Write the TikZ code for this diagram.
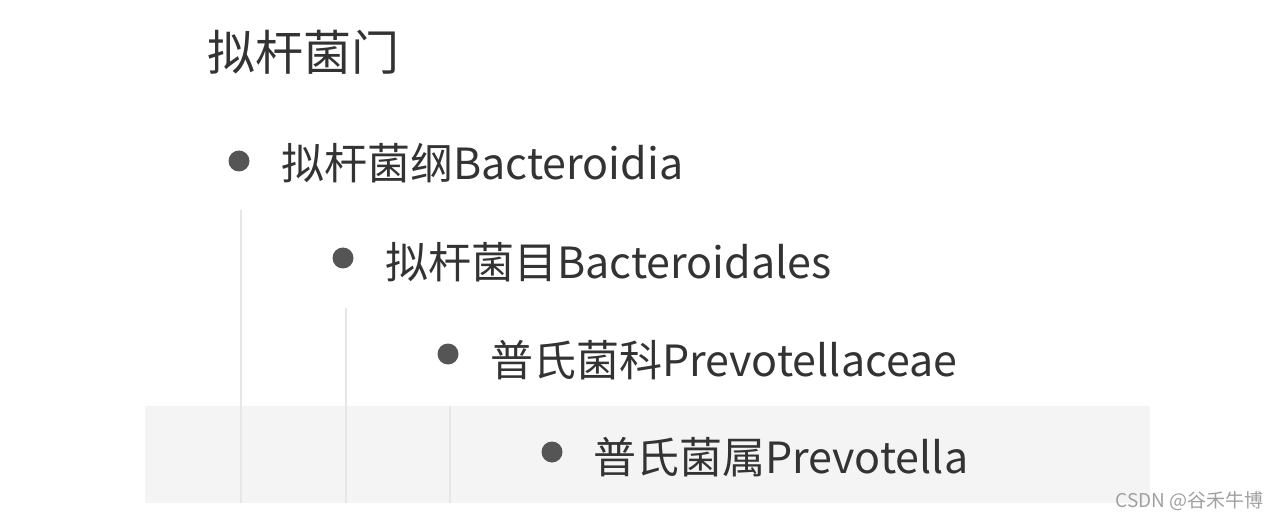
\documentclass[tikz,border=0pt]{standalone}
\usepackage{fontspec}
\setmainfont{Noto Sans CJK SC}
\definecolor{txt}{HTML}{333333}
\definecolor{bul}{HTML}{555555}
\definecolor{guide}{HTML}{E6E6E6}
\definecolor{band}{HTML}{F4F4F4}
\definecolor{wm}{HTML}{A0A0A0}
\begin{document}
\begin{tikzpicture}[x=1pt,y=-1pt,
  item/.style={anchor=west,inner sep=0pt,text=txt,font=\fontsize{43}{50}\selectfont},
  dot/.style={circle,fill=bul,minimum size=21pt,inner sep=0pt},
  guideline/.style={draw=guide,line width=2pt}]
\useasboundingbox (0,0) rectangle (1279,521);
\fill[band] (145,406) rectangle (1150,503);
\node[item,font=\fontsize{48}{56}\selectfont] (title) at (207,52) {拟杆菌门};
\node[dot] (b1) at (239,161) {};
\node[item] (t1) at (281,163) {拟杆菌纲Bacteroidia};
\node[dot] (b2) at (343,258) {};
\node[item] (t2) at (385,262) {拟杆菌目Bacteroidales};
\node[dot] (b3) at (448,354) {};
\node[item] (t3) at (490,360) {普氏菌科Prevotellaceae};
\node[dot] (b4) at (552,452) {};
\node[item] (t4) at (593,457) {普氏菌属Prevotella};
\coordinate (e1) at (241,503);
\coordinate (e2) at (346,503);
\coordinate (e3) at (450,503);
\draw[guideline] (241,210) -- (e1);
\draw[guideline] (346,308) -- (e2);
\draw[guideline] (450,406) -- (e3);
\node[anchor=east,inner sep=0pt,text=wm,font=\fontsize{19}{22}\selectfont] (wm) at (1264,501) {CSDN @谷禾牛博};
\end{tikzpicture}
\end{document}
